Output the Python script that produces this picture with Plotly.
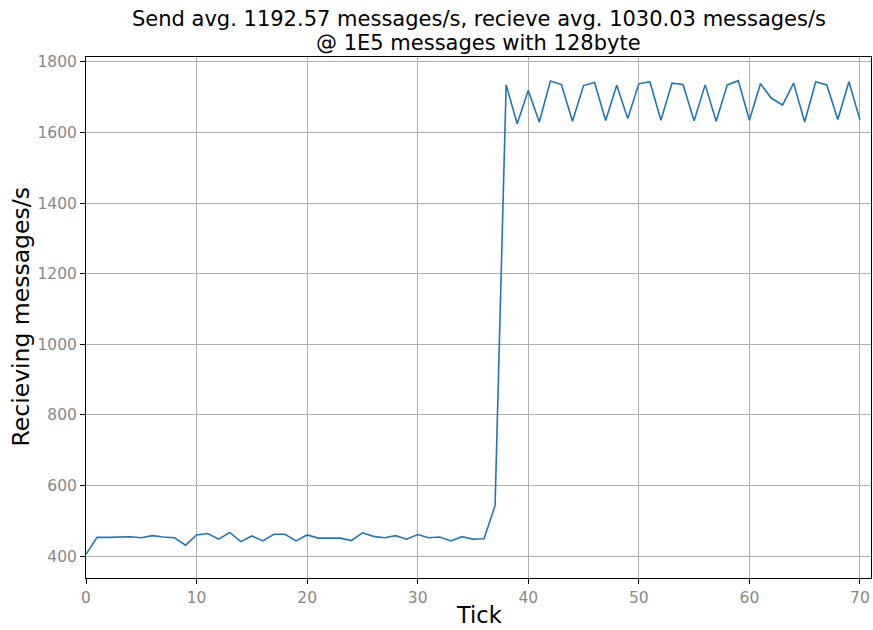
import plotly.graph_objects as go

ticks = list(range(71))
recv = [405, 453, 453, 454, 455, 452, 458, 454, 452, 431,
        460, 464, 448, 467, 441, 457, 443, 462, 462, 443,
        460, 451, 450, 451, 444, 466, 456, 452, 458, 448,
        461, 452, 454, 443, 455, 448, 449, 543, 1735, 1625,
        1719, 1630, 1746, 1736, 1632, 1733, 1742, 1634, 1734, 1640,
        1738, 1744, 1635, 1740, 1736, 1633, 1735, 1632, 1735, 1747,
        1635, 1738, 1697, 1678, 1740, 1630, 1744, 1735, 1637, 1744,
        1636]

title_lines = ["Send avg. 1192.57 messages/s, recieve avg. 1030.03 messages/s",
               "@ 1E5 messages with 128byte"]
x_title = "Tick"
y_title = "Recieving messages/s"

W, H = 873, 630
ML, MR, MT, MB = 86, 2, 57, 52
PW, PH = W - ML - MR, H - MT - MB


def py(ypix):
    return (H - MB - ypix) / PH


def px(xpix):
    return (xpix - ML) / PW


fig = go.Figure()
fig.add_trace(go.Scatter(x=ticks, y=recv, mode="lines",
                         line=dict(color="#1f77b4", width=1.6)))

font = "DejaVu Sans"
fig.update_layout(
    width=W, height=H,
    margin=dict(l=ML, r=MR, t=MT, b=MB),
    paper_bgcolor="white", plot_bgcolor="white",
    showlegend=False,
    font=dict(family=font),
)
axis_common = dict(showgrid=True, gridcolor="#b0b0b0", gridwidth=1,
                   zeroline=False, showline=True, linecolor="black", linewidth=1,
                   mirror=True, ticks="outside", ticklen=5, tickcolor="black",
                   tickfont=dict(family=font, size=15.5, color="#888888"))
fig.update_xaxes(range=[0, 71], tickvals=list(range(0, 71, 10)), **axis_common)
fig.update_yaxes(range=[338, 1814], tickvals=list(range(400, 1801, 200)), **axis_common)

for text, ypix in zip(title_lines, [19, 43]):
    fig.add_annotation(text=text, xref="paper", yref="paper", x=0.5, y=py(ypix),
                       xanchor="center", yanchor="middle", showarrow=False,
                       font=dict(family=font, size=21, color="black"))

fig.add_annotation(text=x_title, xref="paper", yref="paper", x=0.5, y=py(615),
                   xanchor="center", yanchor="middle", showarrow=False,
                   font=dict(family=font, size=22.5, color="black"))
fig.add_annotation(text=y_title, xref="paper", yref="paper", x=px(20), y=0.5,
                   xanchor="center", yanchor="middle", showarrow=False, textangle=-90,
                   font=dict(family=font, size=23.5, color="black"))

fig.write_html("out.html", config={"displayModeBar": False},
               post_script="document.body.style.margin='0';")
